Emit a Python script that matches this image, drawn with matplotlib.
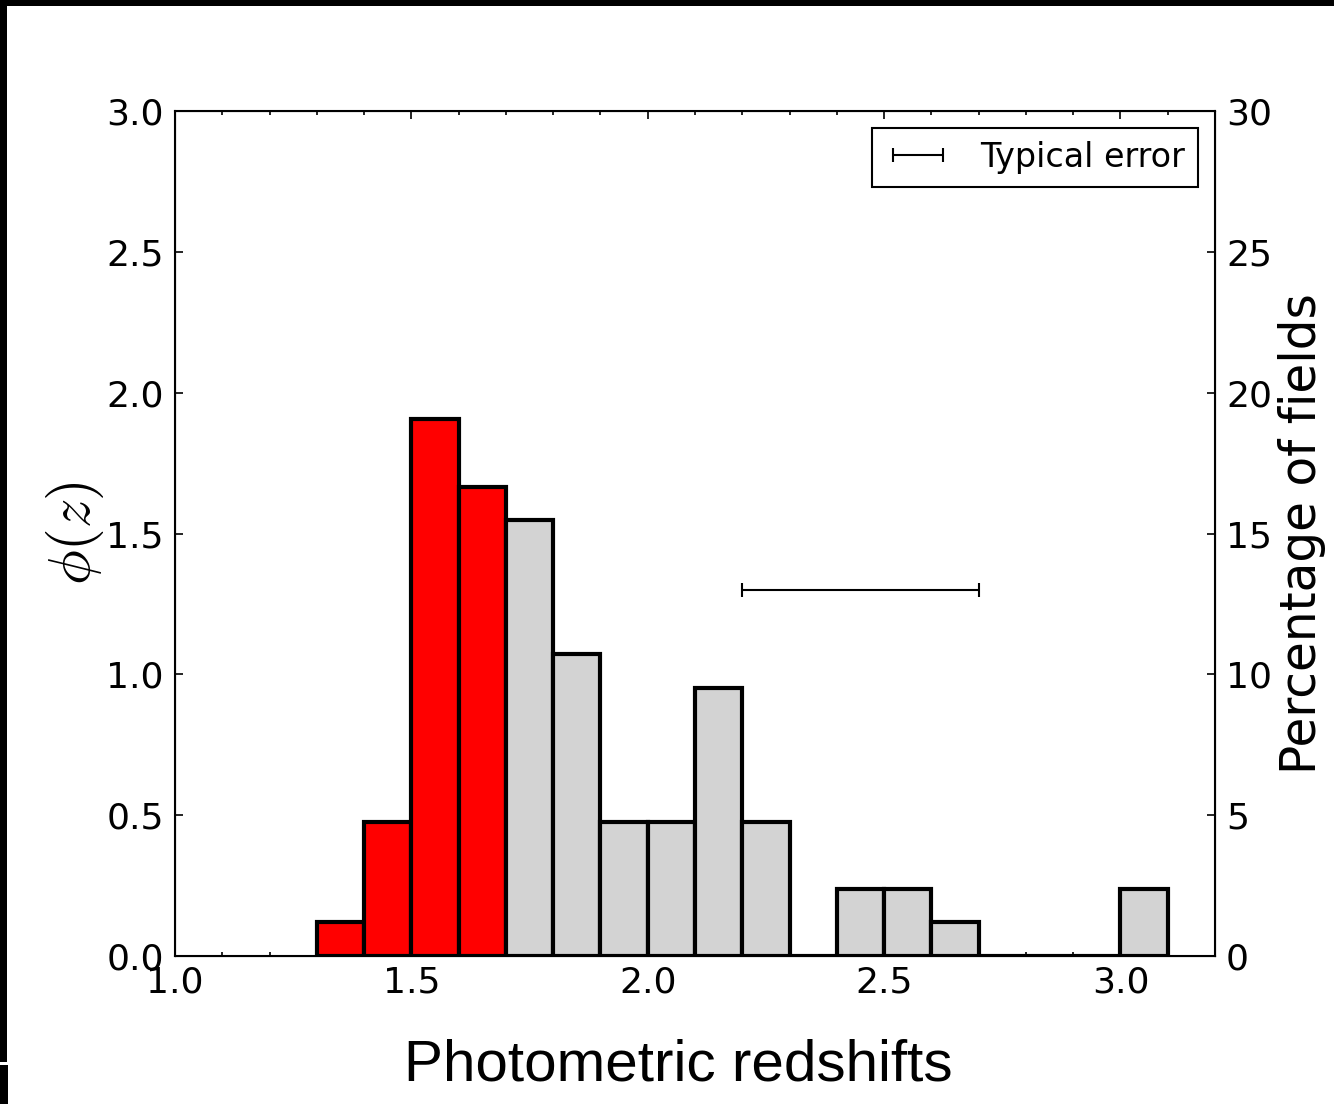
import matplotlib
matplotlib.use("Agg")
import matplotlib.pyplot as plt
import matplotlib.patches as patches
import matplotlib.ticker as plticker
from matplotlib.legend_handler import HandlerErrorbar
import numpy as np

# bin edges of the histogram (width 0.1) and number of fields per bin
bin_left = np.round(np.arange(1.3, 3.1, 0.1), 2)
counts = np.array([1, 4, 16, 14, 13, 9, 4, 4, 8, 4, 0, 2, 2, 1, 0, 0, 0, 2])
red_limit = 1.7          # bins below this are drawn in red
err_center = 2.45
err_half = 0.25
err_y = 1.3

bin_width = 0.1
density = counts / (counts.sum() * bin_width)

plt.rcParams['mathtext.fontset'] = 'cm'

fig = plt.figure(figsize=(13.34, 11.04), dpi=100)
fig.patch.set_facecolor('white')

# black scan border of the original picture
fig.patches.append(patches.Rectangle((0, 1 - 6 / 1104.), 1, 6 / 1104., transform=fig.transFigure,
                                     facecolor='black', edgecolor='none', zorder=0))
fig.patches.append(patches.Rectangle((0, 42 / 1104.), 7 / 1334., 1, transform=fig.transFigure,
                                     facecolor='black', edgecolor='none', zorder=0))
fig.patches.append(patches.Rectangle((0, 0), 8 / 1334., 39 / 1104., transform=fig.transFigure,
                                     facecolor='black', edgecolor='none', zorder=0))

ax = fig.add_axes([175 / 1334., 1 - 956 / 1104., 1040 / 1334., 845 / 1104.])

colors = ['red' if x < red_limit - 1e-6 else 'lightgray' for x in bin_left]
ax.bar(bin_left, density, width=bin_width, align='edge', color=colors,
       edgecolor='black', linewidth=3, zorder=2)

ax.errorbar([err_center], [err_y], xerr=[err_half], fmt='none', ecolor='black',
            elinewidth=1.5, capsize=5, capthick=1.5, label='Typical error', zorder=3)

ax.set_xlim(1.0, 3.2)
ax.set_ylim(0, 3.0)
ax.xaxis.set_major_locator(plticker.MultipleLocator(0.5))
ax.xaxis.set_minor_locator(plticker.MultipleLocator(0.1))
ax.yaxis.set_major_locator(plticker.MultipleLocator(0.5))
ax.xaxis.set_major_formatter(plticker.FormatStrFormatter('%.1f'))
ax.yaxis.set_major_formatter(plticker.FormatStrFormatter('%.1f'))
ax.tick_params(axis='both', which='both', direction='in', top=True, right=False,
               labelsize=26, width=1.2)
ax.tick_params(axis='x', which='major', length=6, pad=7)
ax.tick_params(axis='x', which='minor', length=3)
ax.tick_params(axis='y', which='major', length=6, pad=8)
for s in ax.spines.values():
    s.set_linewidth(1.5)

ax.set_ylabel(r'$\phi(z)$', fontsize=42, labelpad=0)
ax.set_xlabel('Photometric redshifts', fontsize=42, family='Liberation Sans', labelpad=28)
ax.xaxis.label.set_x(0.4837)

leg = ax.legend(loc='upper right', fontsize=24, fancybox=False, edgecolor='black',
                handlelength=2.0, handletextpad=0.85, borderaxespad=0.5, borderpad=0.4,
                framealpha=1, handler_map={matplotlib.container.ErrorbarContainer: HandlerErrorbar(xerr_size=0.75)})
leg.get_frame().set_linewidth(1.5)

ax2 = ax.twinx()
ax2.set_ylim(0, 30)
ax2.yaxis.set_major_locator(plticker.MultipleLocator(5))
ax2.tick_params(axis='y', direction='in', length=6, width=1.2, labelsize=26, pad=8)
ax2.set_ylabel('Percentage of fields', fontsize=35, labelpad=4)

fig.savefig('out.png', dpi=100, facecolor='white')
